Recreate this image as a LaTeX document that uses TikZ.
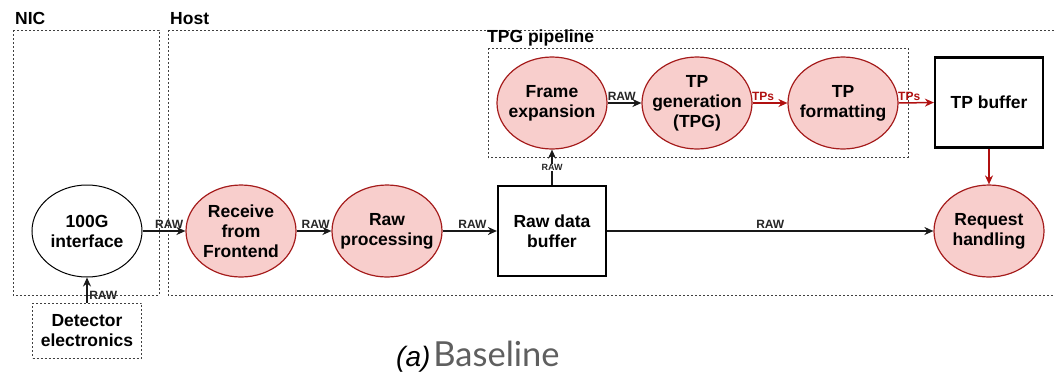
\documentclass[tikz,border=0pt]{standalone}
\usepackage{fontspec}
\setmainfont{Liberation Sans}
\newfontfamily\capfont{Lato}
\usetikzlibrary{arrows.meta,shapes.geometric}
\definecolor{redfill}{HTML}{F8CECC}
\definecolor{redline}{HTML}{A51C1C}
\definecolor{arrred}{HTML}{B01010}
\definecolor{capgray}{HTML}{5F5F5F}
\tikzset{
  bodyfont/.style={font=\fontsize{17.5}{20}\selectfont\bfseries},
  proc/.style={ellipse, draw=redline, fill=redfill, line width=1.2pt, minimum width=110pt, minimum height=92pt, inner sep=-12pt, align=center, bodyfont},
  plain/.style={ellipse, draw=black, line width=1pt, minimum width=110pt, minimum height=92pt, inner sep=-12pt, align=center, bodyfont},
  bufbox/.style={rectangle, draw=black, line width=2.2pt, minimum width=108pt, minimum height=90pt, inner sep=0pt, align=center, bodyfont},
  group/.style={rectangle, draw=black!75, dashed, dash pattern=on 2pt off 2pt, line width=0.7pt},
  grouplbl/.style={anchor=south west, inner sep=0pt, font=\fontsize{17.5}{20}\selectfont\bfseries},
  arr/.style={-{Stealth[length=9pt,width=8pt]}, line width=1.5pt, draw=black!90},
  rarr/.style={-{Stealth[length=9pt,width=8pt]}, line width=1.5pt, draw=arrred},
  lbl/.style={font=\fontsize{12}{13}\selectfont\bfseries, inner sep=1.5pt, text=black!85},
  rlbl/.style={font=\fontsize{12}{13}\selectfont\bfseries, inner sep=1.5pt, text=arrred},
}
\begin{document}
\begin{tikzpicture}[x=1pt,y=-1pt]
\useasboundingbox (0,0) rectangle (1055,373);
% group boxes
\draw[group] (13,30) rectangle (159,295);
\node[grouplbl] (niclbl) at (15,25) {NIC};
\draw[group] (168,30) -- (1056,30);
\draw[group] (168,30) -- (168,295) -- (1056,295);
\node[grouplbl] (hostlbl) at (170,25) {Host};
\draw[group] (488,48) rectangle (908,157);
\node[grouplbl] (tpglbl) at (487,46) {TPG pipeline};
% nodes
\node[plain] (nic) at (87,231) {100G\\interface};
\node[group, minimum width=109pt, minimum height=55pt, inner sep=0pt, align=center, bodyfont] (det) at (87,330.5) {Detector\\electronics};
\node[proc] (recv) at (241,231) {Receive\\from\\Frontend};
\node[proc] (rawp) at (387,231) {Raw\\processing};
\node[bufbox] (rawbuf) at (552,231) {Raw data\\buffer};
\node[proc] (frame) at (552,103) {Frame\\expansion};
\node[proc] (tpg) at (697,103) {TP\\generation\\(TPG)};
\node[proc] (fmt) at (843,103) {TP\\formatting};
\node[bufbox] (tpbuf) at (989,102.5) {TP buffer};
\node[proc] (req) at (989,231) {Request\\handling};
% connectors
\draw[arr] (det.north) -- node[lbl, right, pos=0.3] {RAW} (nic.south);
\draw[arr] (nic.east) -- node[lbl, above, pos=0.62] {RAW} (recv.west);
\draw[arr] (recv.east) -- node[lbl, above, pos=0.55] {RAW} (rawp.west);
\draw[arr] (rawp.east) -- node[lbl, above, pos=0.55] {RAW} (rawbuf.west);
\draw[arr] (rawbuf.north) -- node[lbl, fill=white, inner sep=0.5pt, font=\fontsize{9}{10}\selectfont\bfseries, pos=0.5] {RAW} (frame.south);
\draw[arr] (frame.east) -- node[lbl, above, pos=0.42] {RAW} (tpg.west);
\draw[rarr] (tpg.east) -- node[rlbl, above, pos=0.3] {TPs} (fmt.west);
\draw[rarr] (fmt.east) -- node[rlbl, above, pos=0.3] {TPs} (tpbuf.west);
\draw[rarr] (tpbuf.south) -- (req.north);
\draw[arr] (rawbuf.east) -- node[lbl, above, pos=0.5] {RAW} (req.west);
% caption
\node[anchor=base west, inner sep=0pt] (cap) at (396,366.5) {{\fontsize{28}{30}\selectfont\itshape (a)}\hspace{3pt}{\capfont\fontsize{34.5}{36}\selectfont\color{capgray}Baseline}};
\end{tikzpicture}
\end{document}
